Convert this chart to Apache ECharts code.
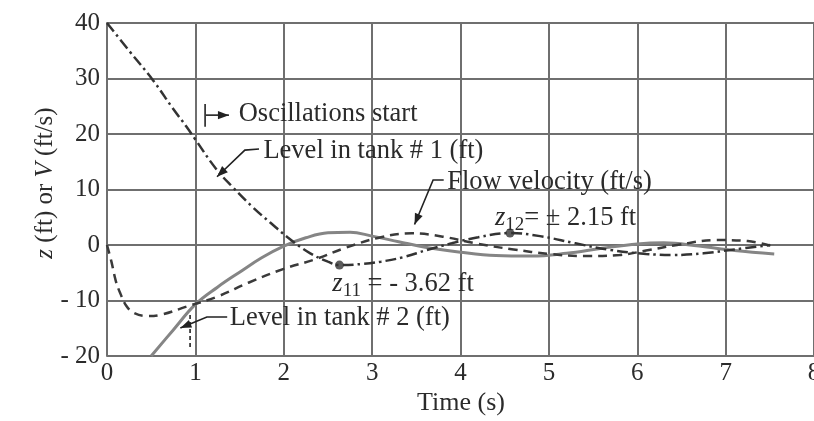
<!DOCTYPE html>
<html><head><meta charset="utf-8">
<script src="https://cdn.jsdelivr.net/npm/echarts@6/dist/echarts.min.js"></script>
<style>html,body{margin:0;padding:0;background:#fff}#c{width:814px;height:421px}</style>
</head><body><div id="c"></div><script>
// ---- data ----
const xTicks = [0,1,2,3,4,5,6,7,8];
const yTicks = [-20,-10,0,10,20,30,40];
const yTickLabels = ['- 20','- 10','0','10','20','30','40'];

const tank1Time  = [0,0.25,0.52,0.75,0.9,1.0,1.24,1.43,1.65,1.85,2.05,2.3,2.5,2.63,2.9,3.1,3.35,3.62,3.9,4.2,4.56,4.9,5.3,5.7,6.1,6.4,6.75,7.1,7.5];
const tank1Level = [40,35,29.7,24.5,21.3,19,13.6,10.3,6.8,4.0,1.3,-1.5,-3.0,-3.62,-3.4,-3.0,-2.2,-0.9,0.3,1.4,2.15,1.6,0.3,-0.9,-1.6,-1.8,-1.5,-0.8,0];

const tank2Time  = [0.5,0.75,1.0,1.25,1.5,1.75,2.0,2.25,2.5,2.75,3.0,3.3,3.6,4.0,4.4,4.8,5.2,5.6,6.0,6.3,6.7,7.1,7.55];
const tank2Level = [-20,-15.3,-10.7,-7.6,-4.9,-2.3,-0.2,1.3,2.2,2.3,1.6,0.6,-0.4,-1.3,-1.9,-2.0,-1.5,-0.6,0.2,0.4,-0.2,-1.0,-1.6];

const velTime  = [0,0.05,0.1,0.15,0.22,0.3,0.45,0.6,0.9,1.25,1.6,2.0,2.35,2.7,3.1,3.45,3.8,4.2,4.6,5.0,5.4,5.8,6.1,6.45,6.9,7.25,7.55];
const velocity = [0,-3,-6.5,-8.7,-11,-12.2,-12.8,-12.6,-11.1,-9.3,-6.8,-4.3,-2.6,-0.5,1.4,2.1,1.5,0.2,-0.8,-1.6,-2.0,-1.8,-1.0,0.0,0.9,0.7,-0.3];

const extremaTime = [2.63,4.56];
const extremaZ    = [-3.62,2.15];

// ---- chart ----
const FONT = 'Liberation Serif';
const TXT = '#2b2b2b';
const GRIDC = '#6f6f6f';
const AF = 26.5; // annotation font size
const pairs = (a,b) => a.map((t,i)=>[t,b[i]]);

const chart = echarts.init(document.getElementById('c'), null, {renderer:'canvas'});
chart.setOption({
  backgroundColor:'#ffffff',
  animation:false,
  grid:{left:107, top:23, right:0, bottom:65, outerBoundsMode:'none', containLabel:false},
  xAxis:{type:'value', min:xTicks[0], max:xTicks[xTicks.length-1], interval:1,
    axisLine:{show:true, lineStyle:{color:GRIDC, width:2}},
    axisTick:{show:false},
    splitLine:{show:true, lineStyle:{color:GRIDC, width:2}},
    axisLabel:{fontFamily:FONT, fontSize:25, color:TXT, margin:5, showMaxLabel:true, hideOverlap:false}},
  yAxis:{type:'value', min:yTicks[0], max:yTicks[yTicks.length-1], interval:10,
    axisLine:{show:true, lineStyle:{color:GRIDC, width:2}},
    axisTick:{show:false},
    splitLine:{show:true, lineStyle:{color:GRIDC, width:2}},
    axisLabel:{fontFamily:FONT, fontSize:25, color:TXT, margin:7,
      formatter:v=>{const i=yTicks.indexOf(v);return i>=0?yTickLabels[i]:'';}}},
  series:[
    {type:'line', name:'Level in tank # 2 (ft)', data:pairs(tank2Time,tank2Level), smooth:0.4, symbol:'none',
     lineStyle:{color:'#858585', width:3}, z:2},
    {type:'line', name:'Flow velocity (ft/s)', data:pairs(velTime,velocity), smooth:0.4, symbol:'none',
     lineStyle:{color:'#3a3a3a', width:2.5, type:[9,6]}, z:3},
    {type:'line', name:'Level in tank # 1 (ft)', data:pairs(tank1Time,tank1Level), smooth:0.4, symbol:'none',
     lineStyle:{color:'#333', width:2.5, type:[11,4,2.5,4]}, z:4},
    {type:'scatter', data:pairs(extremaTime,extremaZ), symbolSize:9, itemStyle:{color:'#333'}, z:5}
  ]
});

// ---- annotations (anchored in data coordinates) ----
const P = (t,v) => chart.convertToPixel({gridIndex:0},[t,v]);
const g = [];
function line(pts, dash){ g.push({type:'polyline', z:100, shape:{points:pts}, style:{stroke:'#222', lineWidth:1.6, fill:null, lineDash:dash||null}}); }
function arrow(pts){
  line(pts);
  const tip=pts[pts.length-1], from=pts[pts.length-2];
  const dx=tip[0]-from[0], dy=tip[1]-from[1], L=Math.hypot(dx,dy), ux=dx/L, uy=dy/L, s=11;
  const bx=tip[0]-ux*s, by=tip[1]-uy*s, px=-uy*s*0.38, py=ux*s*0.38;
  g.push({type:'polygon', z:101, shape:{points:[tip,[bx+px,by+py],[bx-px,by-py]]}, style:{fill:'#222'}});
}
function text(pos, str, rich){
  g.push({type:'text', z:102, x:pos[0], y:pos[1], style:{text:str, font:AF+'px "'+FONT+'"', fill:TXT,
    align:'left', verticalAlign:'middle', rich:rich||undefined}});
}
const sub = {
  z:{fontFamily:FONT, fontSize:AF, fontStyle:'italic', fill:TXT},
  s:{fontFamily:FONT, fontSize:19, fill:TXT, padding:[14,0,0,0]},
  n:{fontFamily:FONT, fontSize:AF, fill:TXT}
};

// Oscillations start
line([P(1.11,25.4),P(1.11,21.3)]);
arrow([P(1.12,23.4),P(1.38,23.4)]);
text(P(1.49,23.6),'Oscillations start');
// Level in tank #1
text(P(1.77,16.9),'Level in tank # 1 (ft)');
arrow([P(1.72,17.3),P(1.56,17.1),P(1.245,12.3)]);
// Flow velocity
text(P(3.85,11.35),'Flow velocity (ft/s)');
arrow([P(3.81,11.7),P(3.69,11.7),P(3.48,3.7)]);
// z12
text(P(4.39,4.9),'{z|z}{s|12}{n|= ± 2.15 ft}', sub);
// z11
text(P(2.55,-7.0),'{z|z}{s|11}{n| = - 3.62 ft}', sub);
// Level in tank #2
text(P(1.39,-13.15),'Level in tank # 2 (ft)');
arrow([P(1.36,-12.97),P(1.13,-12.97),P(0.83,-14.95)]);
// short dashed marker
line([P(0.94,-12.6),P(0.94,-18.4)],[4,3]);

// axis titles
g.push({type:'text', z:102, x:45, y:183, rotation:Math.PI/2,
  style:{text:'{i|z} (ft) or {i|V} (ft/s)', font:'25px "'+FONT+'"', fill:TXT, align:'center', verticalAlign:'middle',
    rich:{i:{fontFamily:FONT,fontSize:25,fontStyle:'italic',fill:TXT}}}});
g.push({type:'text', z:102, x:461, y:403,
  style:{text:'Time (s)', font:'26px "'+FONT+'"', fill:TXT, align:'center', verticalAlign:'middle'}});

chart.setOption({graphic:g});
</script></body></html>
